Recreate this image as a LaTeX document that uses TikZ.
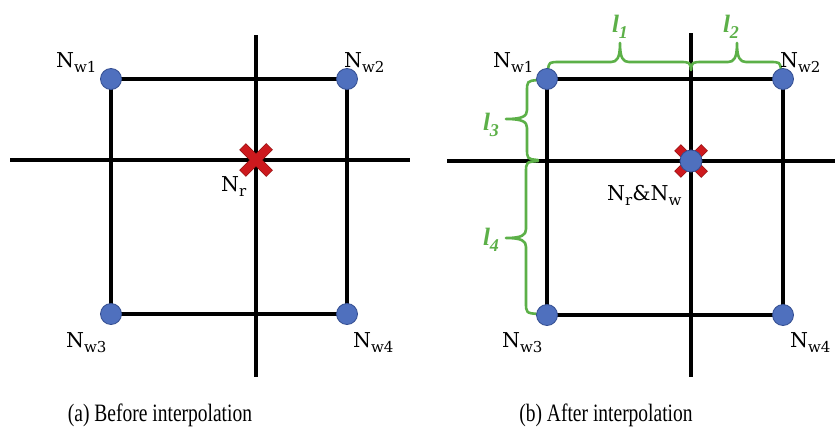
\documentclass[tikz,border=0pt]{standalone}
\usepackage{fontspec}
\usetikzlibrary{calc}
\setmainfont{Liberation Serif}
\newfontfamily\labfont{DejaVu Serif}
\definecolor{nodeblue}{RGB}{79,112,190}
\definecolor{nodeedge}{RGB}{52,78,145}
\definecolor{xred}{RGB}{205,25,30}
\definecolor{xdark}{RGB}{150,20,20}
\definecolor{brgreen}{RGB}{92,176,72}
\newcommand\Nlab[1]{{\labfont\fontsize{20.5}{20}\selectfont N\raisebox{-5pt}{\fontsize{15}{15}\selectfont #1}}}
\newcommand\Llab[1]{{\color{brgreen}\fontsize{25}{25}\selectfont\bfseries\itshape l\raisebox{-5.5pt}{\fontsize{18}{18}\selectfont #1}}}
\tikzset{
  axisline/.style={line width=3.2pt, black},
  gridline/.style={line width=4pt, black},
  wnode/.style={circle, fill=nodeblue, draw=nodeedge, line width=0.8pt, minimum size=21pt, inner sep=0pt},
  lab/.style={anchor=base west, inner sep=0pt},
  capt/.style={anchor=base, inner sep=0pt, font=\fontsize{25}{25}\selectfont},
  bracepath/.style={draw=brgreen, line width=2.6pt, line cap=round, line join=round},
  xarm/.style={line width=8pt, xred}
}
\begin{document}
\begin{tikzpicture}[x=1pt, y=-1pt]
\useasboundingbox (0,0) rectangle (835,439);
% ---------- panel (a) ----------
\coordinate (aL) at (10,160);
\coordinate (aR) at (410,160);
\coordinate (aT) at (256,35);
\coordinate (aB) at (256,377);
\coordinate (a1) at (111,79);
\coordinate (a2) at (347,79);
\coordinate (a3) at (111,314);
\coordinate (a4) at (347,314);
\coordinate (ar) at (256,160);
\draw[axisline] (aL) -- (aR);
\draw[axisline] (aT) -- (aB);
\draw[gridline] (a1) -- (a2) -- (a4) -- (a3) -- cycle;
\draw[line width=9.5pt, xdark] ($(ar)+(-13.5,-13.5)$) -- ($(ar)+(13.5,13.5)$);
\draw[line width=9.5pt, xdark] ($(ar)+(-13.5,13.5)$) -- ($(ar)+(13.5,-13.5)$);
\draw[xarm] ($(ar)+(-13,-13)$) -- ($(ar)+(13,13)$);
\draw[xarm] ($(ar)+(-13,13)$) -- ($(ar)+(13,-13)$);
\node[wnode] (na1) at (a1) {};
\node[wnode] (na2) at (a2) {};
\node[wnode] (na3) at (a3) {};
\node[wnode] (na4) at (a4) {};
\node[lab] (la1) at (56,67) {\Nlab{w1}};
\node[lab] (la2) at (344,67) {\Nlab{w2}};
\node[lab] (la3) at (66,347) {\Nlab{w3}};
\node[lab] (la4) at (353,347) {\Nlab{w4}};
\node[lab] (lar) at (221,191) {\Nlab{r}};
\node[capt] (capa) at (160,421) {\scalebox{0.78}[1]{(a) Before interpolation}};
% ---------- panel (b) ----------
\coordinate (bL) at (447,161);
\coordinate (bR) at (835,161);
\coordinate (bT) at (691,33);
\coordinate (bB) at (691,377);
\coordinate (b1) at (547,79);
\coordinate (b2) at (783,79);
\coordinate (b3) at (547,315);
\coordinate (b4) at (783,315);
\coordinate (br) at (691,161);
\draw[axisline] (bL) -- (bR);
\draw[axisline] (bT) -- (bB);
\draw[gridline] (b1) -- (b2) -- (b4) -- (b3) -- cycle;
% braces
\draw[bracepath] (548,70) .. controls (549,62) .. (560,62) -- (611,62)
   .. controls (617,62) and (620,58) .. (620,43)
   .. controls (620,58) and (623,62) .. (629,62) -- (679,62)
   .. controls (690,62) .. (691,70);
\draw[bracepath] (691,70) .. controls (692,62) .. (703,62) -- (728,62)
   .. controls (734,62) and (737,58) .. (737,43)
   .. controls (737,58) and (740,62) .. (746,62) -- (769,62)
   .. controls (780,62) .. (781,70);
\draw[bracepath] (538,80) .. controls (527,81) .. (527,92) -- (527,110)
   .. controls (527,116) and (523,119) .. (506,119)
   .. controls (523,119) and (527,122) .. (527,128) -- (527,148)
   .. controls (527,159) .. (538,160);
\draw[bracepath] (538,161) .. controls (526,162) .. (526,173) -- (526,229)
   .. controls (526,235) and (522,238) .. (506,238)
   .. controls (522,238) and (526,241) .. (526,247) -- (526,302)
   .. controls (526,313) .. (538,314);
\draw[line width=9.5pt, xdark] ($(br)+(-13.5,-13.5)$) -- ($(br)+(13.5,13.5)$);
\draw[line width=9.5pt, xdark] ($(br)+(-13.5,13.5)$) -- ($(br)+(13.5,-13.5)$);
\draw[xarm] ($(br)+(-13,-13)$) -- ($(br)+(13,13)$);
\draw[xarm] ($(br)+(-13,13)$) -- ($(br)+(13,-13)$);
\node[wnode] (nb1) at (b1) {};
\node[wnode] (nb2) at (b2) {};
\node[wnode] (nb3) at (b3) {};
\node[wnode] (nb4) at (b4) {};
\node[wnode, minimum size=22pt] (nbr) at (br) {};
\node[lab] (lb1) at (493,67) {\Nlab{w1}};
\node[lab] (lb2) at (780,67) {\Nlab{w2}};
\node[lab] (lb3) at (502,347) {\Nlab{w3}};
\node[lab] (lb4) at (790,347) {\Nlab{w4}};
\node[lab] (lbr) at (607,200) {\Nlab{r}{\labfont\fontsize{20.5}{20}\selectfont\&}\Nlab{w}};
\node[inner sep=0pt] (l1) at (620,27) {\Llab{1}};
\node[inner sep=0pt] (l2) at (731,27) {\Llab{2}};
\node[inner sep=0pt] (l3) at (491,125) {\Llab{3}};
\node[inner sep=0pt] (l4) at (491,240) {\Llab{4}};
\node[capt] (capb) at (606,421) {\scalebox{0.78}[1]{(b) After interpolation}};
\end{tikzpicture}
\end{document}
